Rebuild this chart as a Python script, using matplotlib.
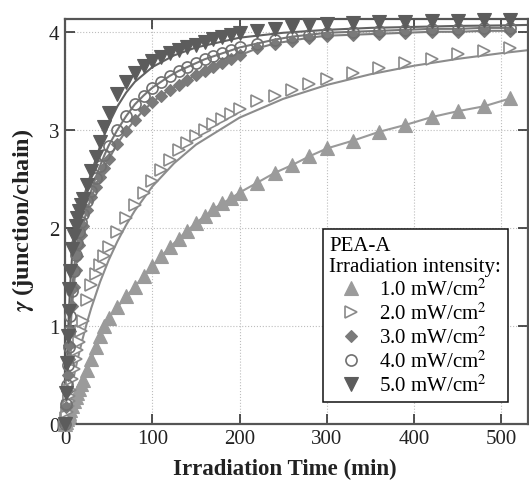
import numpy as np
import matplotlib
matplotlib.use("Agg")
import matplotlib.pyplot as plt
from matplotlib.lines import Line2D

plt.rcParams['font.family'] = ['Liberation Serif', 'DejaVu Serif']
plt.rcParams['mathtext.fontset'] = 'stix'

# irradiation time (min) of the measured points
t = [0, 1, 2, 3, 4, 5, 6, 8, 10, 12, 14, 16, 18, 20, 25, 30, 35, 40, 45, 50,
     60, 70, 80, 90, 100, 110, 120, 130, 140, 150, 160, 170, 180, 190, 200,
     220, 240, 260, 280, 300, 330, 360, 390, 420, 450, 480, 510]

g1 = [0, 0.02, 0.05, 0.07, 0.09, 0.11, 0.14, 0.18, 0.23, 0.27, 0.32, 0.36, 0.41, 0.45,
      0.55, 0.66, 0.78, 0.90, 1.00, 1.08, 1.19, 1.30, 1.40, 1.51, 1.61, 1.71, 1.80,
      1.89, 1.97, 2.05, 2.12, 2.19, 2.25, 2.30, 2.36, 2.46, 2.56, 2.64, 2.73, 2.81,
      2.89, 2.98, 3.05, 3.13, 3.19, 3.24, 3.32]
g2 = [0, 0.06, 0.12, 0.18, 0.23, 0.29, 0.35, 0.46, 0.56, 0.66, 0.75, 0.84, 0.95, 1.05,
      1.26, 1.42, 1.53, 1.62, 1.71, 1.80, 1.96, 2.10, 2.23, 2.36, 2.48, 2.59, 2.69,
      2.79, 2.87, 2.94, 3.00, 3.06, 3.11, 3.16, 3.21, 3.29, 3.35, 3.41, 3.47, 3.52,
      3.58, 3.63, 3.68, 3.72, 3.77, 3.80, 3.83]
g3 = [0, 0.17, 0.34, 0.50, 0.66, 0.81, 0.95, 1.20, 1.40, 1.57, 1.71, 1.83, 1.93, 2.02,
      2.18, 2.31, 2.42, 2.52, 2.61, 2.70, 2.86, 2.99, 3.10, 3.20, 3.28, 3.35, 3.41,
      3.46, 3.51, 3.56, 3.60, 3.64, 3.68, 3.72, 3.76, 3.83, 3.88, 3.91, 3.94, 3.96,
      3.97, 3.98, 3.99, 4.00, 4.00, 4.01, 4.01]
g4 = [0, 0.20, 0.40, 0.60, 0.78, 0.95, 1.10, 1.36, 1.56, 1.72, 1.85, 1.96, 2.06, 2.14,
      2.27, 2.38, 2.51, 2.63, 2.74, 2.84, 3.00, 3.14, 3.26, 3.35, 3.43, 3.49, 3.55,
      3.60, 3.64, 3.68, 3.72, 3.75, 3.78, 3.81, 3.84, 3.88, 3.92, 3.95, 3.97, 3.99,
      4.00, 4.01, 4.02, 4.03, 4.03, 4.04, 4.04]
g5 = [0, 0.32, 0.62, 0.90, 1.15, 1.38, 1.56, 1.78, 1.92, 2.02, 2.10, 2.17, 2.23, 2.29,
      2.44, 2.58, 2.72, 2.88, 3.03, 3.17, 3.37, 3.49, 3.58, 3.65, 3.70, 3.74, 3.78,
      3.81, 3.84, 3.87, 3.90, 3.93, 3.95, 3.97, 3.99, 4.01, 4.03, 4.05, 4.07, 4.08,
      4.09, 4.10, 4.10, 4.11, 4.11, 4.12, 4.12]

# fitted curves (2.0 and 5.0 sit apart from their points)
t_fit = [0, 1, 2, 3, 4, 5, 6, 8, 10, 12, 15, 20, 25, 30, 40, 50, 60, 70, 80, 100,
         125, 150, 200, 250, 300, 350, 400, 450, 500, 530]
fit2 = [0, 0.053, 0.105, 0.156, 0.205, 0.254, 0.301, 0.392, 0.48, 0.564, 0.683, 0.865,
        1.031, 1.182, 1.446, 1.671, 1.863, 2.03, 2.177, 2.422, 2.66, 2.849, 3.125,
        3.316, 3.458, 3.567, 3.654, 3.724, 3.782, 3.812]
fit5 = [0, 0.29, 0.56, 0.82, 1.05, 1.25, 1.43, 1.70, 1.87, 1.98, 2.10, 2.27, 2.42,
        2.56, 2.83, 3.06, 3.24, 3.38, 3.49, 3.64, 3.76, 3.84, 3.94, 3.99, 4.02, 4.04,
        4.05, 4.06, 4.065, 4.07]

labels = ['1.0 mW/cm$^{2}$', '2.0 mW/cm$^{2}$', '3.0 mW/cm$^{2}$',
          '4.0 mW/cm$^{2}$', '5.0 mW/cm$^{2}$']

fig = plt.figure(figsize=(5.29, 4.89), dpi=100)
ax = fig.add_axes([0.123, 0.131, 0.876, 0.828])

lw = 1.5
# fit lines
ax.plot(t, g1, color='#9a9a9a', lw=lw, zorder=2)
ax.plot(t_fit, fit2, color='#8c8c8c', lw=lw, zorder=2)
ax.plot(t, g3, color='#7e7e7e', lw=lw, zorder=2)
ax.plot(t, g4, color='#777777', lw=lw, zorder=2)
ax.plot(t_fit, fit5, color='#616161', lw=lw, zorder=2)

# measured points
st = [
    dict(marker='^', ms=9.5, mfc='#9b9b9b', mec='#9b9b9b', mew=0.8),
    dict(marker='>', ms=9, mfc='white', mec='#8a8a8a', mew=1.2),
    dict(marker='D', ms=6.5, mfc='#7a7a7a', mec='#7a7a7a', mew=0.8),
    dict(marker='o', ms=8, mfc='none', mec='#707070', mew=1.2),
    dict(marker='v', ms=9.5, mfc='#5c5c5c', mec='#5c5c5c', mew=0.8),
]
for y, s in zip([g1, g2, g3, g4, g5], st):
    ax.plot(t, y, ls='none', zorder=3, clip_on=False, **s)

ax.set_xlim(0, 531)
ax.set_ylim(0, 4.13)
ax.set_xticks([0, 100, 200, 300, 400, 500])
ax.set_yticks([0, 1, 2, 3, 4])
ax.grid(True, ls=':', color='#bdbdbd', lw=0.8)
ax.set_axisbelow(True)
ax.tick_params(direction='in', top=True, right=True, length=7, width=1.2,
               labelsize=15, colors='#333333', labelcolor='#222222', pad=4)
for sp in ax.spines.values():
    sp.set_color('#555555')
    sp.set_linewidth(1.6)

ax.set_xlabel('Irradiation Time (min)', fontsize=16.5, fontweight='bold', color='#222222')
ax.set_ylabel(r'$\mathbfit{\gamma}$ (junction/chain)', fontsize=17.5,
              fontweight='bold', color='#222222')
ax.xaxis.set_label_coords(0.474, -0.085)
ax.yaxis.set_label_coords(-0.062, 0.505)

handles = [Line2D([], [], ls='none', **s) for s in st]
leg = ax.legend(handles, labels, title='PEA-A\nIrradiation intensity:',
                loc='lower right', bbox_to_anchor=(0.955, 0.054), borderaxespad=0,
                fontsize=15, title_fontsize=15, alignment='left', fancybox=False,
                framealpha=1, edgecolor='#111111', handlelength=2.1,
                handletextpad=0.3, labelspacing=0.12, borderpad=0.3)
leg.get_frame().set_linewidth(1.1)

fig.savefig('out.png', dpi=100)
